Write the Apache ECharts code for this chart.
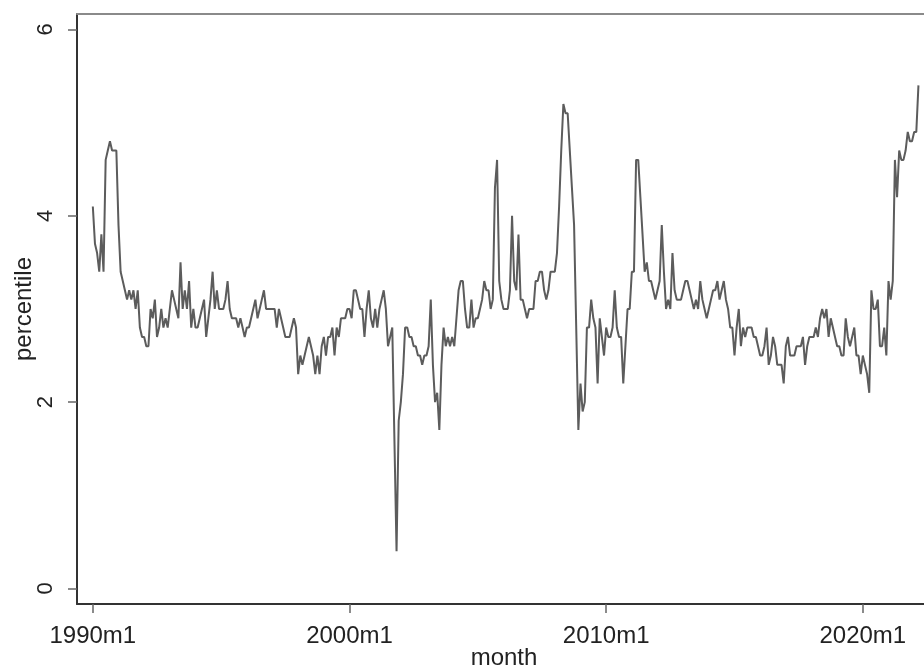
<!DOCTYPE html>
<html>
<head>
<meta charset="utf-8">
<script src="https://cdn.jsdelivr.net/npm/echarts@6/dist/echarts.min.js"></script>
<style>
  html, body { margin: 0; padding: 0; background: #fff; }
  #chart { width: 924px; height: 668px; }
</style>
</head>
<body>
<div id="chart"></div>
<script>
// monthly values, one row per year
const p1990s = [
  4.1, 3.7, 3.6, 3.4, 3.8, 3.4, 4.6, 4.7, 4.8, 4.7, 4.7, 4.7,
  3.9, 3.4, 3.3, 3.2, 3.1, 3.2, 3.1, 3.2, 3.0, 3.2, 2.8, 2.7,
  2.7, 2.6, 2.6, 3.0, 2.9, 3.1, 2.7, 2.8, 3.0, 2.8, 2.9, 2.8,
  3.0, 3.2, 3.1, 3.0, 2.9, 3.5, 3.0, 3.2, 3.0, 3.3, 2.8, 3.0,
  2.8, 2.8, 2.9, 3.0, 3.1, 2.7, 2.9, 3.1, 3.4, 3.0, 3.2, 3.0,
  3.0, 3.0, 3.1, 3.3, 3.0, 2.9, 2.9, 2.9, 2.8, 2.9, 2.8, 2.7,
  2.8, 2.8, 2.9, 3.0, 3.1, 2.9, 3.0, 3.1, 3.2, 3.0, 3.0, 3.0,
  3.0, 3.0, 2.8, 3.0, 2.9, 2.8, 2.7, 2.7, 2.7, 2.8, 2.9, 2.8,
  2.3, 2.5, 2.4, 2.5, 2.6, 2.7, 2.6, 2.5, 2.3, 2.5, 2.3, 2.6,
  2.7, 2.5, 2.7, 2.7, 2.8, 2.5, 2.8, 2.7, 2.9, 2.9, 2.9, 3.0
]
const p2000s = [
  3.0, 2.9, 3.2, 3.2, 3.1, 3.0, 3.0, 2.7, 3.0, 3.2, 2.9, 2.8,
  3.0, 2.8, 3.0, 3.1, 3.2, 3.0, 2.6, 2.7, 2.8, 1.6, 0.4, 1.8,
  2.0, 2.3, 2.8, 2.8, 2.7, 2.7, 2.6, 2.6, 2.5, 2.5, 2.4, 2.5,
  2.5, 2.6, 3.1, 2.4, 2.0, 2.1, 1.7, 2.4, 2.8, 2.6, 2.7, 2.6,
  2.7, 2.6, 2.9, 3.2, 3.3, 3.3, 3.0, 2.8, 2.8, 3.1, 2.8, 2.9,
  2.9, 3.0, 3.1, 3.3, 3.2, 3.2, 3.0, 3.1, 4.3, 4.6, 3.3, 3.1,
  3.0, 3.0, 3.0, 3.2, 4.0, 3.3, 3.2, 3.8, 3.1, 3.1, 3.0, 2.9,
  3.0, 3.0, 3.0, 3.3, 3.3, 3.4, 3.4, 3.2, 3.1, 3.2, 3.4, 3.4,
  3.4, 3.6, 4.1, 4.7, 5.2, 5.1, 5.1, 4.7, 4.3, 3.9, 2.8, 1.7,
  2.2, 1.9, 2.0, 2.8, 2.8, 3.1, 2.9, 2.8, 2.2, 2.9, 2.7, 2.5
]
const p2010s = [
  2.8, 2.7, 2.7, 2.8, 3.2, 2.8, 2.7, 2.7, 2.2, 2.6, 3.0, 3.0,
  3.4, 3.4, 4.6, 4.6, 4.2, 3.8, 3.4, 3.5, 3.3, 3.3, 3.2, 3.1,
  3.2, 3.3, 3.9, 3.4, 3.0, 3.1, 3.0, 3.6, 3.2, 3.1, 3.1, 3.1,
  3.2, 3.3, 3.3, 3.2, 3.1, 3.0, 3.1, 3.0, 3.3, 3.1, 3.0, 2.9,
  3.0, 3.1, 3.2, 3.2, 3.3, 3.1, 3.2, 3.3, 3.1, 3.0, 2.8, 2.8,
  2.5, 2.8, 3.0, 2.6, 2.8, 2.7, 2.8, 2.8, 2.8, 2.7, 2.7, 2.6,
  2.5, 2.5, 2.6, 2.8, 2.4, 2.5, 2.7, 2.6, 2.4, 2.4, 2.4, 2.2,
  2.6, 2.7, 2.5, 2.5, 2.5, 2.6, 2.6, 2.6, 2.7, 2.4, 2.6, 2.7,
  2.7, 2.7, 2.8, 2.7, 2.9, 3.0, 2.9, 3.0, 2.7, 2.9, 2.8, 2.7,
  2.6, 2.6, 2.5, 2.5, 2.9, 2.7, 2.6, 2.7, 2.8, 2.5, 2.5, 2.3
]
const p2020s = [
  2.5, 2.4, 2.3, 2.1, 3.2, 3.0, 3.0, 3.1, 2.6, 2.6, 2.8, 2.5,
  3.3, 3.1, 3.3, 4.6, 4.2, 4.7, 4.6, 4.6, 4.7, 4.9, 4.8, 4.8,
  4.9, 4.9, 5.4
]

// x ticks: months since 1990m1
const xTickMonths = [0, 120, 240, 360]
const xTickLabels = ['1990m1', '2000m1', '2010m1', '2020m1']
const yTicks = [0, 2, 4, 6]

const percentile = p1990s.concat(p2000s, p2010s, p2020s)
const seriesData = percentile.map((v, i) => [i, v])

const chart = echarts.init(document.getElementById('chart'), null, { renderer: 'canvas' })

const font = 'Liberation Sans, Arial, sans-serif'

chart.setOption({
  animation: false,
  backgroundColor: '#fff',
  grid: {
    left: 77,
    right: 0,
    top: 14,
    bottom: 64,
    outerBoundsMode: 'none',
    containLabel: false
  },
  xAxis: [
    {
      type: 'value',
      min: -7.4,
      max: 388.6,
      name: 'month',
      nameLocation: 'middle',
      nameGap: 42,
      nameMoveOverlap: false,
      nameTextStyle: { fontFamily: font, fontSize: 24, color: '#222', padding: [0, 0, 0, 7] },
      axisLine: { onZero: false, lineStyle: { color: '#333', width: 2 } },
      axisTick: { show: true, length: 9, customValues: xTickMonths, lineStyle: { color: '#666', width: 1.5 } },
      axisLabel: {
        customValues: xTickMonths,
        margin: 20,
        fontFamily: font,
        fontSize: 24,
        color: '#222',
        formatter: v => xTickLabels[xTickMonths.indexOf(v)]
      },
      splitLine: { show: false }
    },
    {
      type: 'value',
      position: 'top',
      min: -7.4,
      max: 388.6,
      axisLine: { show: true, onZero: false, lineStyle: { color: '#8a8a8a', width: 2 } },
      axisTick: { show: false },
      axisLabel: { show: false },
      splitLine: { show: false }
    }
  ],
  yAxis: {
    type: 'value',
    min: -0.167,
    max: 6.166,
    name: 'percentile',
    nameLocation: 'middle',
    nameGap: 41,
    nameMoveOverlap: false,
    nameTextStyle: { fontFamily: font, fontSize: 24, color: '#222' },
    axisLine: { show: true, onZero: false, lineStyle: { color: '#333', width: 2 } },
    axisTick: { show: true, length: 9, customValues: yTicks, lineStyle: { color: '#666', width: 1.5 } },
    axisLabel: {
      customValues: yTicks,
      rotate: 90,
      margin: 20,
      fontFamily: font,
      fontSize: 22,
      color: '#222'
    },
    splitLine: { show: false }
  },
  series: [
    {
      type: 'line',
      data: seriesData,
      showSymbol: false,
      symbol: 'none',
      lineStyle: { color: '#5c5c5c', width: 2 }
    }
  ]
})
</script>
</body>
</html>
